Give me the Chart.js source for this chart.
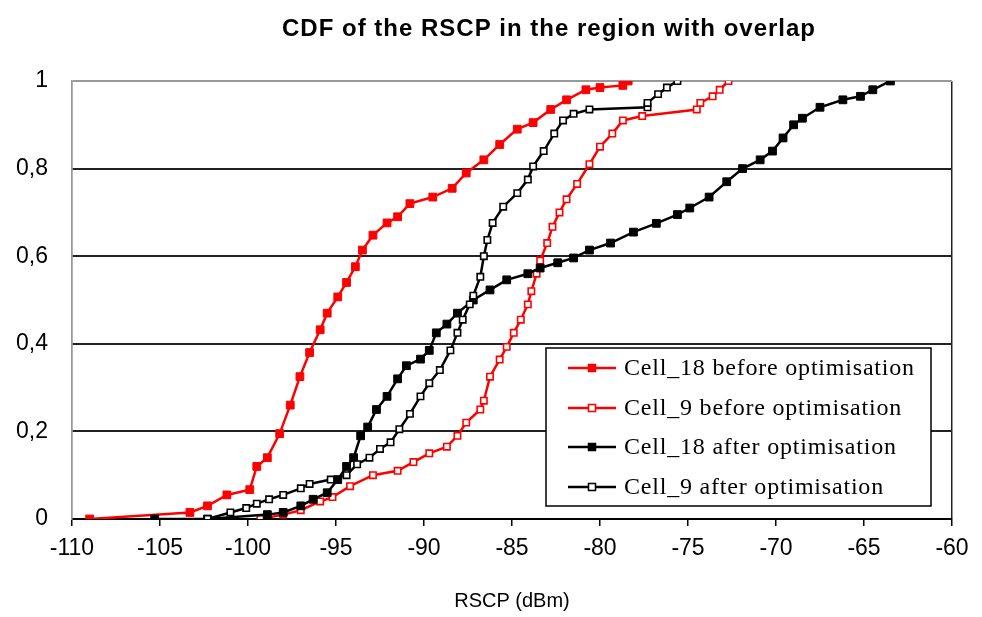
<!DOCTYPE html>
<html>
<head>
<meta charset="utf-8">
<script src="https://cdn.jsdelivr.net/npm/chart.js@4.4.1/dist/chart.umd.min.js"></script>
<style>
  html, body { margin: 0; padding: 0; background: #fff; }
  #wrap { width: 982px; height: 617px; position: relative; }
</style>
</head>
<body>
<div id="wrap"><canvas id="myChart" width="982" height="617"></canvas></div>
<script>
const chartTitle = "CDF of the RSCP in the region with overlap";
const xTitle = "RSCP (dBm)";
const seriesNames = [
  "Cell_18 before optimisation",
  "Cell_9 before optimisation",
  "Cell_18 after optimisation",
  "Cell_9 after optimisation",
];

// Cell_18 before optimisation (red, filled squares)
const c18BeforeX = [-109.0, -103.3, -102.3, -101.2, -99.9, -99.5, -98.9, -98.2, -97.6, -97.05, -96.5, -95.9, -95.5, -94.9, -94.4, -93.9, -93.5, -92.9, -92.1, -91.5, -90.8, -89.5, -88.4, -87.6, -86.6, -85.7, -84.7, -83.8, -82.8, -81.9, -80.8, -80.0, -78.7, -78.4];
const c18BeforeY = [0, 0.015, 0.03, 0.055, 0.067, 0.12, 0.14, 0.195, 0.26, 0.325, 0.38, 0.432, 0.47, 0.507, 0.54, 0.576, 0.614, 0.648, 0.676, 0.69, 0.72, 0.735, 0.755, 0.79, 0.82, 0.855, 0.89, 0.905, 0.935, 0.957, 0.98, 0.985, 0.99, 1.0];

// Cell_9 before optimisation (red, open squares)
const c9BeforeX = [-99.3, -98.0, -97.0, -95.9, -95.2, -94.2, -92.9, -91.5, -90.6, -89.7, -88.7, -88.1, -87.6, -86.8, -86.6, -86.25, -85.7, -85.3, -84.9, -84.5, -84.1, -83.9, -83.6, -83.4, -83.0, -82.7, -82.3, -81.9, -81.3, -80.6, -80.0, -79.3, -78.7, -77.6, -74.5, -74.3, -73.6, -73.2, -72.7];
const c9BeforeY = [0, 0.01, 0.02, 0.04, 0.05, 0.075, 0.10, 0.11, 0.13, 0.15, 0.165, 0.19, 0.22, 0.25, 0.27, 0.325, 0.364, 0.393, 0.425, 0.455, 0.49, 0.52, 0.56, 0.59, 0.63, 0.667, 0.70, 0.73, 0.765, 0.81, 0.85, 0.88, 0.91, 0.92, 0.935, 0.95, 0.965, 0.98, 1.0];

// Cell_18 after optimisation (black, filled squares)
const c18AfterX = [-105.3, -102.3, -98.9, -98.0, -97.0, -96.3, -95.5, -94.9, -94.4, -94.0, -93.6, -93.2, -92.7, -92.1, -91.5, -91.0, -90.2, -89.7, -89.3, -88.7, -88.1, -87.2, -86.25, -85.3, -84.1, -83.4, -82.4, -81.5, -80.6, -79.4, -78.1, -76.8, -75.6, -74.9, -73.8, -72.8, -71.9, -70.9, -70.2, -69.6, -69.0, -68.5, -67.5, -66.2, -65.2, -64.5, -63.5];
const c18AfterY = [0, 0, 0.01, 0.015, 0.03, 0.045, 0.06, 0.09, 0.12, 0.14, 0.19, 0.21, 0.25, 0.28, 0.32, 0.35, 0.365, 0.385, 0.425, 0.445, 0.47, 0.50, 0.523, 0.546, 0.56, 0.573, 0.585, 0.596, 0.614, 0.63, 0.655, 0.675, 0.695, 0.71, 0.735, 0.77, 0.80, 0.82, 0.84, 0.87, 0.90, 0.915, 0.94, 0.957, 0.965, 0.98, 1.0];

// Cell_9 after optimisation (black, open squares)
const c9AfterX = [-102.3, -101.0, -100.1, -99.5, -98.8, -98.0, -97.0, -96.5, -95.3, -94.4, -93.8, -93.1, -92.5, -91.9, -91.4, -90.8, -90.2, -89.7, -89.1, -88.5, -88.1, -87.8, -87.4, -87.2, -86.8, -86.6, -86.4, -86.1, -85.5, -84.7, -84.1, -83.8, -83.2, -82.6, -82.1, -81.5, -80.6, -77.3, -77.3, -76.7, -76.2, -75.6];
const c9AfterY = [0, 0.015, 0.025, 0.035, 0.045, 0.055, 0.07, 0.08, 0.09, 0.10, 0.125, 0.14, 0.16, 0.175, 0.205, 0.24, 0.28, 0.31, 0.34, 0.385, 0.425, 0.455, 0.49, 0.51, 0.553, 0.60, 0.637, 0.676, 0.713, 0.744, 0.775, 0.805, 0.84, 0.88, 0.91, 0.925, 0.935, 0.94, 0.95, 0.97, 0.985, 1.0];

const xMin = -110, xMax = -60, xStep = 5;
const yMin = 0, yMax = 1, yStep = 0.2;

function pts(xs, ys) {
  return xs.map((x, i) => ({ x: x, y: ys[i] }));
}

const RED = "#ff0000";
const BLACK = "#000000";

function series(i, xs, ys, color, filled, order) {
  return {
    label: seriesNames[i],
    data: pts(xs, ys),
    borderColor: color,
    borderWidth: 2.5,
    pointStyle: "rect",
    pointRadius: filled ? 5.5 : 4.5,
    pointBorderWidth: filled ? 1 : 1.6,
    pointBackgroundColor: filled ? color : "#ffffff",
    pointBorderColor: color,
    fill: false,
    tension: 0,
    order: order,
  };
}

const datasets = [
  series(0, c18BeforeX, c18BeforeY, RED, true, 4),
  series(1, c9BeforeX, c9BeforeY, RED, false, 3),
  series(2, c18AfterX, c18AfterY, BLACK, true, 2),
  series(3, c9AfterX, c9AfterY, BLACK, false, 1),
];

// title + boxed legend drawn by hand (legend sits inside the plot)
const decor = {
  id: "decor",
  afterDraw(chart) {
    const c = chart.ctx;
    c.save();
    c.fillStyle = "#000";
    c.font = "bold 24px 'Liberation Sans', Arial, sans-serif";
    c.letterSpacing = "1px";
    c.textAlign = "center";
    c.textBaseline = "middle";
    c.fillText(chartTitle, 549, 29);

    const bx = 546, by = 348, bw = 385, bh = 158;
    c.fillStyle = "#fff";
    c.fillRect(bx, by, bw, bh);
    c.strokeStyle = "#000";
    c.lineWidth = 1.5;
    c.strokeRect(bx, by, bw, bh);

    const rowsY = [368, 408, 447, 487];
    c.letterSpacing = "0.8px";
    datasets.forEach((ds, i) => {
      const y = rowsY[i];
      c.strokeStyle = ds.borderColor;
      c.lineWidth = 2.5;
      c.beginPath();
      c.moveTo(568, y);
      c.lineTo(616, y);
      c.stroke();
      const s = 7;
      c.fillStyle = ds.pointBackgroundColor;
      c.fillRect(592 - s / 2, y - s / 2, s, s);
      c.lineWidth = 1.5;
      c.strokeRect(592 - s / 2, y - s / 2, s, s);
      c.fillStyle = "#000";
      c.textAlign = "left";
      c.font = "24px 'Liberation Serif', 'Times New Roman', serif";
      c.fillText(ds.label, 624, y + 1);
    });
    c.restore();
  },
};

const ctx = document.getElementById("myChart");

new Chart(ctx, {
  type: "line",
  data: { datasets: datasets },
  options: {
    responsive: false,
    animation: false,
    layout: { padding: { top: 81, right: 30, left: 0, bottom: 0 } },
    plugins: {
      legend: { display: false },
      title: { display: false },
      tooltip: { enabled: false },
    },
    scales: {
      x: {
        type: "linear",
        min: xMin,
        max: xMax,
        afterFit: function (s) { s.height = 98; },
        ticks: {
          stepSize: xStep,
          color: "#000",
          padding: 9,
          font: { family: "'Liberation Sans', Arial, sans-serif", size: 23 },
        },
        grid: {
          drawOnChartArea: true,
          tickLength: 7,
          tickColor: "#000",
          lineWidth: 1.5,
          color: function (c) {
            if (c.tick && c.tick.value === xMax) return "#222";
            if (c.tick && c.tick.value === xMin) return "#999";
            return "rgba(0,0,0,0)";
          },
        },
        border: { display: true, color: "#000", width: 2 },
        title: {
          display: true,
          text: xTitle,
          color: "#000",
          padding: { top: 0, bottom: 4 },
          font: { family: "'Liberation Sans', Arial, sans-serif", size: 20 },
        },
      },
      y: {
        type: "linear",
        min: yMin,
        max: yMax,
        afterFit: function (s) { s.width = 72; },
        ticks: {
          stepSize: yStep,
          color: "#000",
          padding: 24,
          font: { family: "'Liberation Sans', Arial, sans-serif", size: 23 },
          callback: function (v) {
            if (v === 0) return "0";
            if (v === 1) return "1";
            return v.toFixed(1).replace(".", ",");
          },
        },
        grid: {
          drawTicks: false,
          lineWidth: 2,
          color: function (c) {
            if (c.tick && c.tick.value === yMax) return "#999";
            if (c.tick && c.tick.value === yMin) return "rgba(0,0,0,0)";
            return "#222";
          },
        },
        border: { display: true, color: "#999", width: 1.5 },
      },
    },
  },
  plugins: [decor],
});
</script>
</body>
</html>
